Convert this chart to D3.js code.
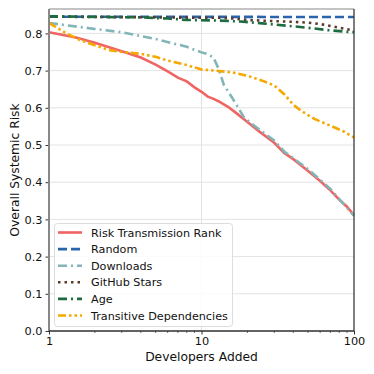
<!DOCTYPE html>
<html><head><meta charset="utf-8">
<script src="https://cdn.jsdelivr.net/npm/d3@7"></script>
<style>body{margin:0;background:#fff}svg{display:block;font-family:"DejaVu Sans",sans-serif}</style>
</head><body><svg id="c" width="374" height="374"></svg>
<script>
const yTicks=[0.0,0.1,0.2,0.3,0.4,0.5,0.6,0.7,0.8];
const xTicks=[1,10,100];
const seriesNames=["Risk Transmission Rank","Random","Downloads","GitHub Stars","Age","Transitive Dependencies"];
const rtrX=[1,1.5,2,3,4,5,6,7,8,9,10,11,12,13,15,17,20,24,30,35,40,50,60,70,80,90,100];
const rtrY=[0.803,0.789,0.775,0.752,0.735,0.716,0.698,0.681,0.671,0.655,0.643,0.630,0.624,0.617,0.602,0.585,0.562,0.536,0.506,0.478,0.462,0.430,0.403,0.378,0.353,0.334,0.311];
const randX=[1,100];
const randY=[0.845,0.844];
const dlX=[1,2,3,5,7,8,9,10,11,12,13,14,16,19,22,30,35,50,70,100];
const dlY=[0.828,0.812,0.803,0.785,0.770,0.764,0.756,0.749,0.744,0.735,0.703,0.662,0.625,0.574,0.553,0.512,0.482,0.435,0.382,0.310];
const ghX=[1,5,10,13,16,20,30,40,50,60,70,85,100];
const ghY=[0.845,0.843,0.842,0.842,0.840,0.836,0.833,0.831,0.829,0.825,0.820,0.813,0.808];
const ageX=[1,4,6,8,12,18,25,30,40,50,70,100];
const ageY=[0.846,0.843,0.840,0.836,0.835,0.832,0.827,0.824,0.819,0.815,0.808,0.803];
const tdX=[1,1.3,1.6,2,2.5,3,4,5,6,8,10,13,16,20,25,30,35,40,45,55,70,85,100];
const tdY=[0.828,0.800,0.782,0.768,0.755,0.750,0.745,0.737,0.727,0.715,0.703,0.699,0.695,0.686,0.673,0.660,0.636,0.608,0.592,0.570,0.552,0.537,0.520];

const styles=[
 {c:"#f06464",d:null},
 {c:"#2b64ad",d:"9,4"},
 {c:"#82b5b7",d:"9,4,2,4"},
 {c:"#5a3a2a",d:"2.5,4"},
 {c:"#1d6b40",d:"9,4,2,4"},
 {c:"#f5a800",d:"8,3,2.5,3,2.5,3"}
];
const data=[[rtrX,rtrY],[randX,randY],[dlX,dlY],[ghX,ghY],[ageX,ageY],[tdX,tdY]];

const svg=d3.select("#c");
const L=49,R=354,T=9,B=331;
const x=d3.scaleLog().domain([1,100]).range([L,R]);
const y=d3.scaleLinear().domain([0,0.8656]).range([B,T]);

// grid
const g=svg.append("g");
g.selectAll("line.h").data(yTicks).enter().append("line")
 .attr("x1",L).attr("x2",R).attr("y1",d=>y(d)).attr("y2",d=>y(d))
 .attr("stroke","#e3e3e3").attr("stroke-width",1);
g.selectAll("line.v").data(xTicks).enter().append("line")
 .attr("y1",T).attr("y2",B).attr("x1",d=>x(d)).attr("x2",d=>x(d))
 .attr("stroke","#e3e3e3").attr("stroke-width",1);

// lines
const order=[0,2,5,1,3,4];
order.forEach(i=>{
 const [xs,ys]=data[i];
 const pts=xs.map((v,j)=>[v,ys[j]]);
 const ln=d3.line().x(d=>x(d[0])).y(d=>y(d[1]));
 const p=svg.append("path").datum(pts).attr("d",ln).attr("fill","none")
  .attr("stroke",styles[i].c).attr("stroke-width",2.6);
 if(styles[i].d)p.attr("stroke-dasharray",styles[i].d);
});

// axes
const xa=svg.append("g").attr("transform",`translate(0,${B})`)
 .call(d3.axisBottom(x).tickValues(xTicks).tickFormat(d3.format("d")).tickSize(3.5).tickPadding(2));
const minors=[2,3,4,5,6,7,8,9,20,30,40,50,60,70,80,90];
svg.append("g").selectAll("line").data(minors).enter().append("line")
 .attr("x1",d=>x(d)).attr("x2",d=>x(d)).attr("y1",B).attr("y2",B+2).attr("stroke","#333").attr("stroke-width",0.7);
const ya=svg.append("g").attr("transform",`translate(${L},0)`)
 .call(d3.axisLeft(y).tickValues(yTicks).tickFormat(d3.format(".1f")).tickSize(3.5).tickPadding(3));
[xa,ya].forEach(a=>{a.select(".domain").remove();a.selectAll("text").attr("font-size",11.3).attr("fill","#111").attr("font-family","DejaVu Sans");a.selectAll(".tick line").attr("stroke","#333");});
// spines
svg.append("line").attr("x1",L).attr("x2",R).attr("y1",T).attr("y2",T).attr("stroke","#888").attr("stroke-width",1.2);
svg.append("line").attr("x1",R).attr("x2",R).attr("y1",T).attr("y2",B).attr("stroke","#333").attr("stroke-width",1.2);
svg.append("line").attr("x1",L).attr("x2",L).attr("y1",T).attr("y2",B).attr("stroke","#888").attr("stroke-width",2);
svg.append("line").attr("x1",L).attr("x2",R).attr("y1",B).attr("y2",B).attr("stroke","#333").attr("stroke-width",1.5);

svg.append("text").attr("x",(L+R)/2).attr("y",361).attr("text-anchor","middle").attr("font-size",12.3).attr("fill","#111").text("Developers Added");
svg.append("text").attr("transform",`translate(19,${(T+B)/2}) rotate(-90)`).attr("text-anchor","middle").attr("font-size",12.3).attr("fill","#111").text("Overall Systemic Risk");

// legend
const lg=svg.append("g");
lg.append("rect").attr("x",54.5).attr("y",223.5).attr("width",178).attr("height",103).attr("rx",3)
 .attr("fill","#fff").attr("fill-opacity",0.85).attr("stroke","#ddd");
seriesNames.forEach((n,i)=>{
 const yy=232.5+i*16.6;
 const l=lg.append("line").attr("x1",58).attr("x2",82).attr("y1",yy).attr("y2",yy)
  .attr("stroke",styles[i].c).attr("stroke-width",2.6);
 if(styles[i].d)l.attr("stroke-dasharray",styles[i].d);
 lg.append("text").attr("x",91).attr("y",yy+4).attr("font-size",11.2).attr("fill","#111").text(n);
});
</script></body></html>
